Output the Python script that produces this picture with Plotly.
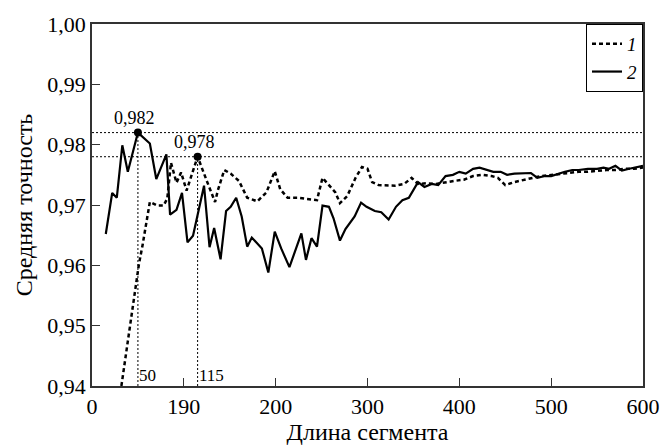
import plotly.graph_objects as go

# Series 1 (dashed)
x1 = [32, 51, 55, 63, 71, 78, 82, 86, 92, 97, 103, 109, 115, 125, 129, 134, 137, 144, 151, 160,
      169, 180, 190, 199, 205, 213, 224, 233, 245, 251, 256, 265, 270, 278, 287, 294, 300, 305,
      312, 320, 330, 340, 348, 355, 365, 375, 385, 395, 405, 415, 425, 435, 442, 450, 460, 470,
      480, 490, 500, 510, 520, 530, 540, 550, 560, 570, 580, 590, 600]
y1 = [0.9400, 0.9601, 0.9633, 0.9705, 0.9699, 0.9699, 0.9711, 0.9770, 0.9737, 0.9754, 0.9724,
      0.9754, 0.9780, 0.9740, 0.9724, 0.9705, 0.9724, 0.9758, 0.9752, 0.9740, 0.9712, 0.9706,
      0.9721, 0.9756, 0.9726, 0.9712, 0.9712, 0.9710, 0.9708, 0.9745, 0.9737, 0.9721, 0.9703,
      0.9715, 0.9745, 0.9763, 0.9760, 0.9738, 0.9733, 0.9732, 0.9732, 0.9735, 0.9745, 0.9735,
      0.9736, 0.9735, 0.9738, 0.9740, 0.9742, 0.9748, 0.9750, 0.9748, 0.9745, 0.9733, 0.9738,
      0.9742, 0.9745, 0.9748, 0.9750, 0.9752, 0.9753, 0.9755, 0.9755, 0.9757, 0.9758, 0.9758,
      0.9760, 0.9760, 0.9762]

# Series 2 (solid)
x2 = [15, 22, 27, 33, 39, 50, 63, 70, 81, 85, 92, 98, 104, 110, 122, 128, 133, 140, 146, 151,
      157, 163, 169, 174, 185, 192, 199, 206, 215, 228, 233, 239, 245, 251, 258, 263, 270, 276,
      286, 293, 299, 308, 315, 323, 331, 338, 345, 355, 362, 370, 377, 385, 393, 400, 407, 415,
      422, 430, 437, 445, 452, 460, 470, 478, 485, 493, 500, 508, 515, 523, 530, 540, 550, 557,
      563, 570, 577, 585, 592, 600]
y2 = [0.9652, 0.9720, 0.9712, 0.9799, 0.9755, 0.9820, 0.9802, 0.9743, 0.9784, 0.9684, 0.9692,
      0.9720, 0.9638, 0.9649, 0.9732, 0.9630, 0.9662, 0.9610, 0.9690, 0.9697, 0.9712, 0.9681,
      0.9631, 0.9646, 0.9628, 0.9588, 0.9656, 0.9628, 0.9597, 0.9653, 0.9609, 0.9645, 0.9631,
      0.9699, 0.9697, 0.9678, 0.9641, 0.9660, 0.9681, 0.9704, 0.9697, 0.9690, 0.9688, 0.9676,
      0.9697, 0.9708, 0.9712, 0.9738, 0.9730, 0.9735, 0.9733, 0.9748, 0.9750, 0.9755, 0.9752,
      0.9760, 0.9762, 0.9758, 0.9755, 0.9755, 0.9750, 0.9752, 0.9752, 0.9753, 0.9745, 0.9748,
      0.9748, 0.9752, 0.9755, 0.9758, 0.9758, 0.9760, 0.9760, 0.9762, 0.9760, 0.9765, 0.9757,
      0.9760, 0.9762, 0.9765]

peak_x = [50, 115]
peak_y = [0.982, 0.978]
peak_labels = ["0,982", "0,978"]
foot_labels = ["50", "115"]

x_tickvals = [0, 100, 200, 300, 400, 500, 600]
x_ticktext = ["0", "190", "200", "300", "400", "500", "600"]
y_tickvals = [0.94, 0.95, 0.96, 0.97, 0.98, 0.99, 1.00]
y_ticktext = ["0,94", "0,95", "0,96", "0,97", "0,98", "0,99", "1,00"]

x_min, x_max = 0, 600
y_min, y_max = 0.94, 1.00

FONT = "Liberation Serif, Times New Roman, serif"

fig = go.Figure()

for py in peak_y:
    fig.add_trace(go.Scatter(x=[x_min, x_max], y=[py, py], mode="lines",
                             line=dict(color="black", width=1, dash="2px,2px"),
                             showlegend=False, hoverinfo="skip"))
for px, py in zip(peak_x, peak_y):
    fig.add_trace(go.Scatter(x=[px, px], y=[y_min, py], mode="lines",
                             line=dict(color="black", width=1, dash="2px,2px"),
                             showlegend=False, hoverinfo="skip"))

fig.add_trace(go.Scatter(x=x1, y=y1, mode="lines", name="<i>1</i>",
                         line=dict(color="black", width=2.5, dash="4px,3px")))
fig.add_trace(go.Scatter(x=x2, y=y2, mode="lines", name="<i>2</i>",
                         line=dict(color="black", width=2.2)))

fig.add_trace(go.Scatter(x=peak_x, y=peak_y, mode="markers",
                         marker=dict(color="black", size=8),
                         showlegend=False, hoverinfo="skip"))

for px, py, lab in zip(peak_x, peak_y, peak_labels):
    fig.add_annotation(x=px, y=py, text=lab, showarrow=False, xanchor="center",
                       yanchor="bottom", yshift=3, xshift=-3,
                       font=dict(family=FONT, size=18, color="black"))
for px, lab in zip(peak_x, foot_labels):
    fig.add_annotation(x=px, y=y_min, text=lab, showarrow=False, xanchor="left",
                       yanchor="bottom", xshift=-1, yshift=-1,
                       font=dict(family=FONT, size=17, color="black"))

axis_common = dict(showline=True, linecolor="#333333", linewidth=1.5, mirror=True,
                   ticks="inside", ticklen=8, tickcolor="#333333", tickwidth=1.2,
                   showgrid=False, zeroline=False,
                   tickfont=dict(family=FONT, size=22, color="black"),
                   title_font=dict(family=FONT, size=24, color="black"))

fig.update_xaxes(range=[x_min, x_max], tickvals=x_tickvals, ticktext=x_ticktext,
                 title_text="Длина сегмента", title_standoff=0, **axis_common)
fig.update_yaxes(range=[y_min, y_max], tickvals=y_tickvals, ticktext=y_ticktext,
                 title_text="Средняя точность", title_standoff=8, **axis_common)

fig.update_layout(
    width=672, height=448,
    margin=dict(l=92, r=17, t=19, b=55),
    plot_bgcolor="white", paper_bgcolor="white",
    font=dict(family=FONT, color="black"),
    legend=dict(x=1, y=1, xanchor="right", yanchor="top",
                bgcolor="white", bordercolor="black", borderwidth=1,
                font=dict(family=FONT, size=19, color="black"),
                itemwidth=30, tracegroupgap=0),
    showlegend=True,
)

fig.write_html("out.html", config={"displayModeBar": False},
               post_script="document.body.style.margin='0';")
